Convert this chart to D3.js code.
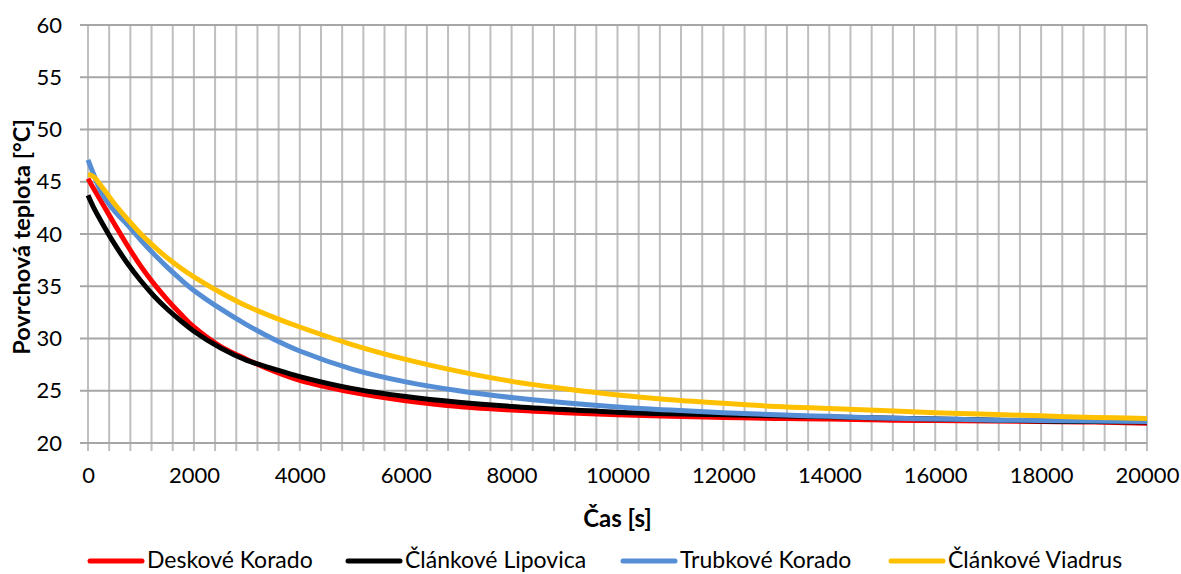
<!DOCTYPE html>
<html><head><meta charset="utf-8">
<script src="https://cdn.jsdelivr.net/npm/d3@7"></script>
<style>body{margin:0;background:#fff}svg{display:block}text{font-family:Lato,"Open Sans",sans-serif}</style>
</head><body><svg id="c" width="1181" height="574"></svg>
<script>
const times = [0,100,250,500,750,1000,1250,1500,1750,2000,2500,3000,3500,4000,5000,6000,7000,8000,9000,10000,11000,12000,13000,14000,15000,16000,17000,18000,19000,20000];
const deskoveKorado   = [45.3,44.4,43.1,40.95,38.85,36.9,35.2,33.7,32.35,31.1,29.25,28.0,26.9,26.0,24.85,24.05,23.5,23.15,22.9,22.7,22.55,22.45,22.35,22.3,22.2,22.15,22.1,22.05,22.0,21.9];
const clankoveLipovica= [43.7,42.6,41.2,39.05,37.15,35.5,34.05,32.8,31.7,30.7,29.1,27.9,27.1,26.35,25.2,24.45,23.9,23.5,23.2,22.95,22.8,22.7,22.6,22.5,22.4,22.3,22.2,22.1,22.05,22.0];
const trubkoveKorado  = [47.1,45.8,44.0,42.2,40.85,39.4,38.05,36.8,35.65,34.6,32.85,31.3,29.95,28.8,27.05,25.85,25.0,24.35,23.85,23.45,23.15,22.9,22.7,22.55,22.4,22.3,22.2,22.15,22.1,22.05];
const clankoveViadrus = [45.7,45.5,44.6,42.9,41.4,40.0,38.8,37.7,36.75,35.9,34.4,33.1,32.05,31.1,29.4,28.0,26.85,25.9,25.2,24.6,24.15,23.8,23.5,23.3,23.1,22.9,22.75,22.6,22.45,22.35];
const seriesNames = ["Deskové Korado","Článkové Lipovica","Trubkové Korado","Článkové Viadrus"];
const seriesColors = ["#FF0000","#000000","#558ED5","#FFC000"];
const xTicks = [0,2000,4000,6000,8000,10000,12000,14000,16000,18000,20000];
const yTicks = [20,25,30,35,40,45,50,55,60];
const xTitle = "Čas [s]";
const yTitle = "Povrchová teplota [°C]";

const svg = d3.select("#c");
const L=88, R=1147, T=25, B=443;
const x = d3.scaleLinear().domain([0,20000]).range([L,R]);
const y = d3.scaleLinear().domain([20,60]).range([B,T]);

const vGrid = d3.range(0,20001,400);
svg.append("g").selectAll("line").data(vGrid).join("line")
  .attr("x1",d=>x(d)).attr("x2",d=>x(d)).attr("y1",T).attr("y2",B+8)
  .attr("stroke","#BFBFBF").attr("stroke-width",2);
svg.append("g").selectAll("line").data(yTicks).join("line")
  .attr("x1",L-8).attr("x2",R).attr("y1",d=>y(d)).attr("y2",d=>y(d))
  .attr("stroke","#A6A6A6").attr("stroke-width",2);

const xAxis = svg.append("g").attr("transform",`translate(0,${B})`)
  .call(d3.axisBottom(x).tickValues(xTicks).tickSize(0).tickPadding(24).tickFormat(d3.format("d")));
xAxis.select(".domain").remove();
xAxis.selectAll("text").attr("font-size",22).attr("fill","#000").attr("font-family","Lato");
const yAxis = svg.append("g").attr("transform",`translate(${L},0)`)
  .call(d3.axisLeft(y).tickValues(yTicks).tickSize(0).tickPadding(26));
yAxis.select(".domain").remove();
yAxis.selectAll("text").attr("font-size",22).attr("fill","#000").attr("font-family","Lato");

const data = [deskoveKorado, clankoveLipovica, trubkoveKorado, clankoveViadrus];
const line = d3.line().x((d,i)=>x(times[i])).y(d=>y(d)).curve(d3.curveCatmullRom.alpha(0.5));
svg.append("g").selectAll("path").data(data).join("path")
  .attr("d",line).attr("fill","none")
  .attr("stroke",(d,i)=>seriesColors[i]).attr("stroke-width",5)
  .attr("stroke-linejoin","round");

svg.append("text").attr("x",(L+R)/2).attr("y",527).attr("text-anchor","middle")
  .attr("font-size",24).attr("font-weight","bold").text(xTitle);
svg.append("text").attr("transform",`translate(30,${(T+B)/2+3}) rotate(-90)`).attr("text-anchor","middle")
  .attr("font-size",23.5).attr("font-weight","bold").text(yTitle);

const legX = [88,346,621,889];
const lg = svg.append("g").selectAll("g").data(seriesNames).join("g")
  .attr("transform",(d,i)=>`translate(${legX[i]},561)`);
lg.append("line").attr("x1",2).attr("x2",54).attr("y1",0).attr("y2",0)
  .attr("stroke",(d,i)=>seriesColors[i]).attr("stroke-width",5).attr("stroke-linecap","round");
lg.append("text").attr("x",59).attr("y",7).attr("font-size",23).text(d=>d);
</script></body></html>
